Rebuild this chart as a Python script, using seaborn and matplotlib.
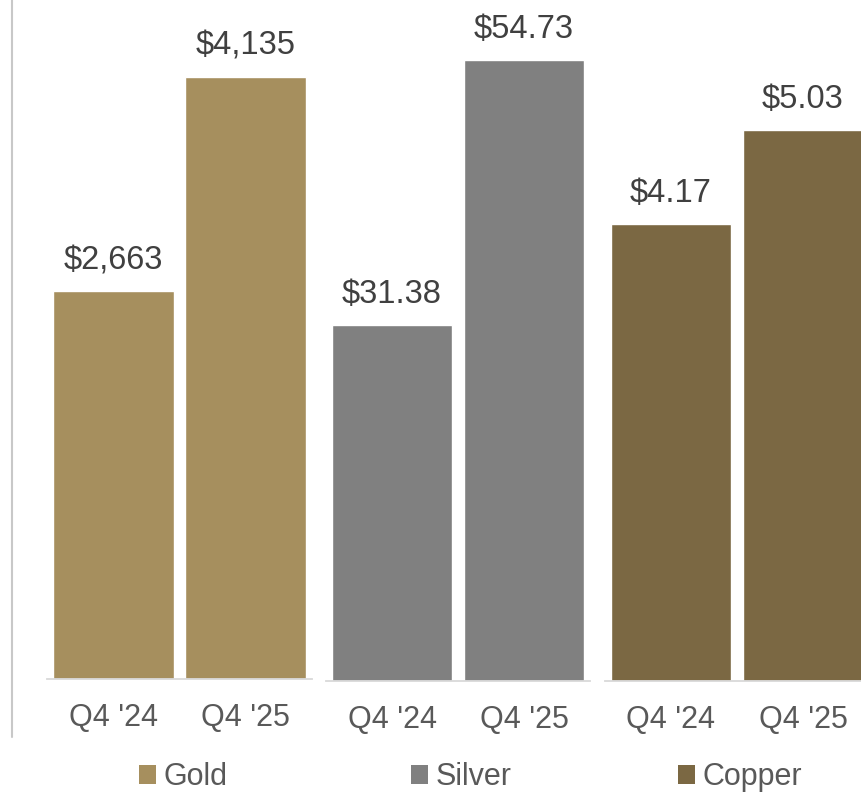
import matplotlib
matplotlib.use("Agg")
import matplotlib.pyplot as plt
import seaborn as sns
import pandas as pd
from matplotlib.lines import Line2D
from matplotlib.patches import Patch

sns.set_theme(style="white")
plt.rcParams['font.family'] = ['Liberation Sans', 'DejaVu Sans']

quarters = ["Q4 '24", "Q4 '25"]
metals = ["Gold", "Silver", "Copper"]
gold_prices = [2663, 4135]
silver_prices = [31.38, 54.73]
copper_prices = [4.17, 5.03]
label_formats = ["${:,.0f}", "${:.2f}", "${:.2f}"]
colors = ["#A68F5E", "#808080", "#7B6843"]

W, H = 861, 794
fig = plt.figure(figsize=(W / 100, H / 100), dpi=100)

# axes geometry in pixels: (left, baseline y from top, width), ylim top
panels = [
    (47, 679, 265, 4664),
    (326, 681, 264, 60.02),
    (605, 681, 264, 6.217),
]
series = [gold_prices, silver_prices, copper_prices]

for i, (metal, vals, fmt, col) in enumerate(zip(metals, series, label_formats, colors)):
    left, base, width, ytop = panels[i]
    ax = fig.add_axes([left / W, (H - base) / H, width / W, base / H])
    df = pd.DataFrame({"quarter": quarters, "price": vals})
    sns.barplot(data=df, x="quarter", y="price", color=col, saturation=1,
                width=0.915, ax=ax)
    ax.set_ylim(0, ytop)
    ax.set_xlim(-0.5, 1.5)
    ax.set_xlabel("")
    ax.set_ylabel("")
    ax.set_yticks([])
    for s in ["top", "right", "left"]:
        ax.spines[s].set_visible(False)
    ax.spines["bottom"].set_color("#D9D9D9")
    ax.spines["bottom"].set_linewidth(1.3)
    ax.tick_params(axis="x", length=0, pad=17, labelsize=22, labelcolor="#595959")
    ax.set_facecolor("none")
    ax.bar_label(ax.containers[0], labels=[fmt.format(v) for v in vals],
                 padding=11, fontsize=23.5, color="#404040")

    leg = fig.legend(handles=[Patch(facecolor=col, edgecolor="none", label=metal)],
                     loc="center left", bbox_to_anchor=([139, 411, 678][i] / W, (H - 777) / H),
                     frameon=False, fontsize=22, handlelength=0.56, handleheight=0.56,
                     handletextpad=0.25, borderpad=0, borderaxespad=0)
    for t in leg.get_texts():
        t.set_color("#595959")

fig.add_artist(Line2D([11.5 / W, 11.5 / W], [1.0, (H - 737) / H],
                      transform=fig.transFigure, color="#C8C8C8", linewidth=1.5))

fig.savefig("out.png", dpi=100)
